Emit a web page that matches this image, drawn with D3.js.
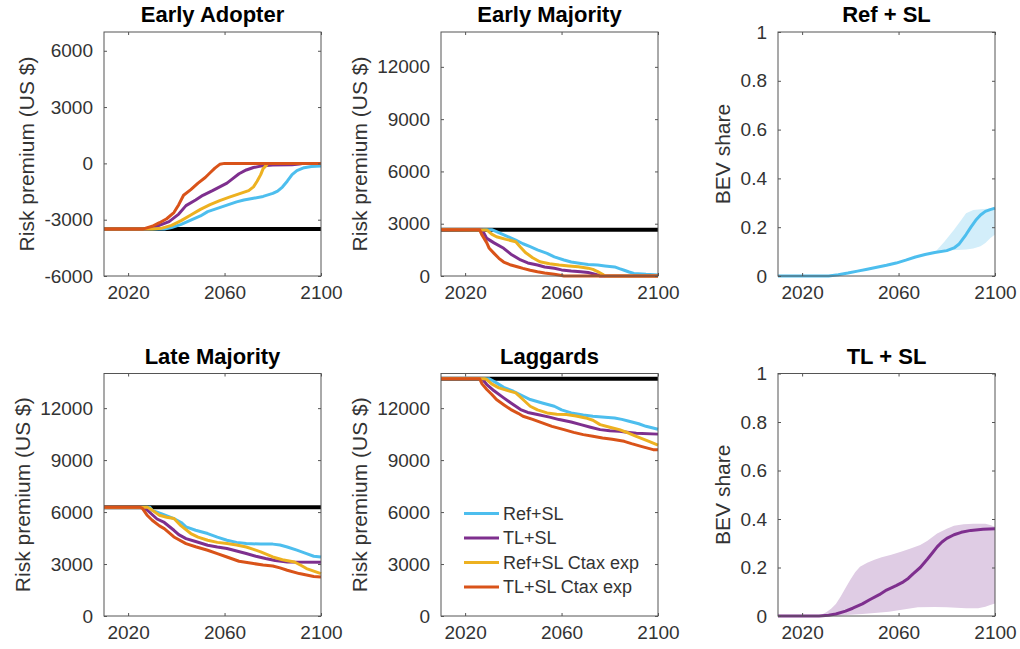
<!DOCTYPE html>
<html><head><meta charset="utf-8">
<script src="https://cdn.jsdelivr.net/npm/d3@7"></script>
<style>
body{margin:0;background:#fff;}
svg{display:block;font-family:"Liberation Sans",Arial,Helvetica,sans-serif;}
</style>
</head><body>
<svg id="chart" width="1020" height="649"></svg>
<script>
// ---------------- DATA ----------------
const seriesNames = ["Ref+SL", "TL+SL", "Ref+SL Ctax exp", "TL+SL Ctax exp"];
const xTicks = [2020, 2060, 2100];
const riskTicksEA = [-6000, -3000, 0, 3000, 6000];
const riskTicks = [0, 3000, 6000, 9000, 12000];
const shareTicks = [0, 0.2, 0.4, 0.6, 0.8, 1];

// Early Adopter
const eaBaseline = -3500;
const eaRefSL = [[2010,-3500],[2035,-3500],[2038,-3420],[2042,-3250],[2046,-3020],[2050,-2800],[2053,-2570],[2057,-2400],[2061,-2220],[2065,-2050],[2068,-1950],[2072,-1860],[2076,-1760],[2080,-1600],[2082,-1480],[2084,-1260],[2086,-950],[2088,-600],[2090,-390],[2093,-230],[2096,-170],[2100,-140]];
const eaTLSL = [[2010,-3500],[2028,-3500],[2031,-3400],[2034,-3250],[2037,-3100],[2041,-2700],[2044,-2250],[2048,-1950],[2051,-1700],[2055,-1450],[2058,-1250],[2061,-1050],[2063,-850],[2066,-550],[2069,-350],[2072,-220],[2076,-120],[2080,-80],[2088,-70],[2091,-30],[2093,0],[2100,0]];
const eaRefCtax = [[2010,-3500],[2030,-3500],[2034,-3450],[2038,-3300],[2042,-3050],[2046,-2750],[2050,-2450],[2054,-2200],[2058,-1980],[2062,-1800],[2066,-1620],[2070,-1450],[2072,-1250],[2073.5,-950],[2075,-600],[2076,-280],[2077.5,-80],[2078,0],[2100,0]];
const eaTLCtax = [[2010,-3500],[2026,-3500],[2030,-3350],[2033,-3160],[2036,-2950],[2039,-2620],[2041,-2200],[2043,-1700],[2046,-1400],[2049,-1050],[2052,-750],[2054,-500],[2056,-250],[2058,-50],[2060,0],[2100,0]];

// Early Majority
const emBaseline = 2660;
const emRefSL = [[2010,2660],[2031,2660],[2033,2540],[2037,2300],[2041,2065],[2044,1850],[2047,1680],[2050,1500],[2054,1300],[2057,1100],[2061,920],[2064,800],[2068,720],[2071,660],[2075,630],[2078,580],[2082,520],[2084,420],[2086,330],[2088,230],[2090,150],[2095,96],[2100,60]];
const emTLSL = [[2010,2660],[2027,2660],[2029,2160],[2032,1900],[2036,1590],[2039,1250],[2043,920],[2046,750],[2050,630],[2053,520],[2057,440],[2060,350],[2064,285],[2068,240],[2071,200],[2073,130],[2075,60],[2076,0],[2100,0]];
const emRefCtax = [[2010,2660],[2029,2640],[2031,2400],[2033,2250],[2037,2100],[2041,1970],[2043,1650],[2045,1350],[2048,1050],[2051,820],[2055,700],[2059,630],[2063,580],[2067,530],[2071,450],[2073,380],[2075,250],[2077,100],[2078,0],[2100,0]];
const emTLCtax = [[2010,2660],[2026,2660],[2027,2350],[2029,1900],[2030,1590],[2032,1300],[2034,1015],[2036,800],[2039,630],[2042,520],[2044,440],[2047,330],[2050,245],[2053,170],[2057,96],[2060,30],[2061,0],[2100,0]];

// Late Majority
const lmBaseline = 6280;
const lmRefSL = [[2010,6280],[2029,6280],[2030,6100],[2034,5900],[2039,5626],[2042,5400],[2044,5141],[2048,4950],[2053,4760],[2057,4550],[2061,4372],[2065,4250],[2069,4182],[2075,4150],[2080,4150],[2083,4100],[2086,3985],[2090,3800],[2094,3604],[2097,3450],[2100,3400]];
const lmTLSL = [[2010,6280],[2026,6280],[2028,6105],[2032,5600],[2035,5400],[2039,4950],[2041,4700],[2044,4470],[2048,4300],[2053,4084],[2057,3980],[2061,3893],[2065,3750],[2069,3604],[2073,3450],[2077,3315],[2081,3200],[2086,3119],[2100,3100]];
const lmRefCtax = [[2010,6280],[2028,6280],[2029,6203],[2033,5816],[2036,5700],[2039,5626],[2042,5200],[2046,4760],[2049,4550],[2053,4372],[2057,4250],[2061,4182],[2065,4100],[2069,3985],[2072,3850],[2075,3697],[2080,3408],[2084,3250],[2089,3119],[2092,2900],[2094,2738],[2100,2449]];
const lmTLCtax = [[2010,6280],[2025,6280],[2026,6203],[2028,5800],[2030,5528],[2033,5200],[2035,5047],[2039,4563],[2044,4182],[2048,4000],[2053,3795],[2057,3600],[2061,3408],[2066,3160],[2072,3027],[2076,2950],[2080,2888],[2083,2780],[2086,2640],[2091,2449],[2097,2280],[2100,2250]];

// Laggards
const lgBaseline = 13700;
const lgRefSL = [[2010,13700],[2030,13700],[2033,13460],[2036,13200],[2040,12976],[2044,12700],[2047,12496],[2052,12300],[2057,12108],[2060,11900],[2064,11725],[2069,11600],[2073,11531],[2078,11480],[2082,11435],[2085,11350],[2088,11242],[2092,11100],[2095,10951],[2100,10780]];
const lgTLSL = [[2010,13700],[2027,13700],[2029,13363],[2032,13000],[2036,12594],[2039,12300],[2043,11917],[2046,11750],[2050,11628],[2055,11480],[2059,11339],[2064,11200],[2068,11050],[2072,10900],[2076,10760],[2080,10700],[2084,10662],[2088,10600],[2091,10550],[2100,10500]];
const lgRefCtax = [[2010,13700],[2028,13700],[2029,13652],[2031,13400],[2034,13170],[2038,13000],[2041,12883],[2044,12500],[2047,12108],[2050,11900],[2054,11725],[2058,11650],[2062,11628],[2066,11550],[2070,11435],[2073,11300],[2076,11050],[2080,10900],[2084,10760],[2088,10550],[2091,10373],[2096,10100],[2100,9870]];
const lgTLCtax = [[2010,13700],[2026,13700],[2027,13400],[2029,13074],[2031,12800],[2033,12496],[2036,12200],[2039,11917],[2042,11700],[2044,11531],[2048,11350],[2052,11146],[2056,10950],[2061,10760],[2065,10600],[2069,10471],[2073,10380],[2077,10278],[2081,10200],[2086,10085],[2089,9950],[2093,9794],[2098,9603],[2100,9600]];

// BEV share, Ref + SL
const refShare = [[2010,0],[2031,0],[2035,0.005],[2039,0.012],[2043,0.02],[2047,0.028],[2051,0.036],[2055,0.044],[2059,0.053],[2063,0.065],[2067,0.078],[2071,0.088],[2075,0.096],[2080,0.104],[2083,0.115],[2085,0.13],[2088,0.17],[2090,0.2],[2092,0.228],[2094,0.25],[2096,0.265],[2098,0.272],[2100,0.278]];
const refShareUpper = [[2075,0.096],[2079,0.14],[2083,0.19],[2086,0.23],[2088,0.257],[2091,0.27],[2095,0.275],[2100,0.278]];
const refShareLower = [[2075,0.096],[2080,0.104],[2084,0.107],[2088,0.109],[2091,0.113],[2094,0.122],[2096,0.135],[2098,0.155],[2100,0.17]];

// BEV share, TL + SL
const tlShare = [[2010,0],[2027,0],[2031,0.003],[2034,0.008],[2038,0.02],[2041,0.032],[2045,0.05],[2048,0.067],[2052,0.088],[2055,0.107],[2059,0.125],[2062,0.141],[2064,0.155],[2066,0.174],[2069,0.2],[2072,0.235],[2074,0.26],[2076,0.285],[2078,0.305],[2080,0.32],[2083,0.335],[2086,0.345],[2090,0.353],[2095,0.358],[2100,0.36]];
const tlShareUpper = [[2027,0],[2030,0.015],[2032,0.03],[2034,0.05],[2036,0.08],[2038,0.115],[2040,0.15],[2042,0.18],[2044,0.203],[2047,0.22],[2050,0.232],[2053,0.242],[2057,0.253],[2061,0.265],[2065,0.278],[2069,0.293],[2072,0.31],[2076,0.34],[2080,0.36],[2083,0.372],[2087,0.378],[2091,0.38],[2096,0.38],[2098,0.375],[2100,0.368]];
const tlShareLower = [[2027,0],[2035,0.002],[2040,0.005],[2045,0.008],[2050,0.012],[2056,0.018],[2062,0.027],[2068,0.036],[2075,0.037],[2080,0.036],[2088,0.032],[2093,0.032],[2096,0.038],[2098,0.045],[2100,0.052]];

// ---------------- STYLE / LAYOUT ----------------
const seriesColors = ["#4DBEEE", "#7E2F8E", "#EDB120", "#D95319"];
const colX = [104, 441, 778];
const rowY = [[32, 276], [373.5, 616]];
const plotW = 217;
const textColor = "#333333";
const axisColor = "#555555";
const tickFont = 19, labelFont = 21, titleFont = 22;

const svg = d3.select("#chart");

const riskPanels = [
  {title: "Early Adopter", col: 0, row: 0, domain: [-6000, 7000], ticks: riskTicksEA, base: eaBaseline, series: [eaRefSL, eaTLSL, eaRefCtax, eaTLCtax]},
  {title: "Early Majority", col: 1, row: 0, domain: [0, 14000], ticks: riskTicks, base: emBaseline, series: [emRefSL, emTLSL, emRefCtax, emTLCtax]},
  {title: "Late Majority", col: 0, row: 1, domain: [0, 14000], ticks: riskTicks, base: lmBaseline, series: [lmRefSL, lmTLSL, lmRefCtax, lmTLCtax]},
  {title: "Laggards", col: 1, row: 1, domain: [0, 14000], ticks: riskTicks, base: lgBaseline, series: [lgRefSL, lgTLSL, lgRefCtax, lgTLCtax], legend: true}
];
const sharePanels = [
  {title: "Ref + SL", col: 2, row: 0, line: refShare, upper: refShareUpper, lower: refShareLower, color: seriesColors[0], band: "#D3EEFA"},
  {title: "TL + SL", col: 2, row: 1, line: tlShare, upper: tlShareUpper, lower: tlShareLower, color: seriesColors[1], band: "#DFCCE4"}
];

function frame(p, yDomain, yTicks, ylabel) {
  const left = colX[p.col], right = left + plotW;
  const top = rowY[p.row][0], bottom = rowY[p.row][1];
  const x = d3.scaleLinear().domain([2010, 2100]).range([left, right]);
  const y = d3.scaleLinear().domain(yDomain).range([bottom, top]);
  const g = svg.append("g");
  const gp = g.append("g").attr("class", "plot");
  const ga = g.append("g");
  const yAx = ga.append("g").attr("transform", `translate(${left},0)`)
    .call(d3.axisLeft(y).tickValues(yTicks).tickFormat(d => String(d)).tickSizeInner(-3).tickSizeOuter(0).tickPadding(11));
  yAx.select(".domain").remove();
  yAx.selectAll("line").attr("stroke", axisColor);
  yAx.selectAll("text").attr("fill", textColor).attr("font-size", tickFont).attr("font-family", "Liberation Sans, Arial, sans-serif");
  const yR = ga.append("g").attr("transform", `translate(${right},0)`)
    .call(d3.axisRight(y).tickValues(yTicks).tickFormat("").tickSizeInner(-3).tickSizeOuter(0));
  yR.select(".domain").remove();
  yR.selectAll("line").attr("stroke", axisColor);
  const xAx = ga.append("g").attr("transform", `translate(0,${bottom})`)
    .call(d3.axisBottom(x).tickValues(xTicks).tickFormat(d => String(d)).tickSizeInner(-3).tickSizeOuter(0).tickPadding(10));
  xAx.select(".domain").remove();
  xAx.selectAll("line").attr("stroke", axisColor);
  xAx.selectAll("text").attr("fill", textColor).attr("font-size", tickFont).attr("font-family", "Liberation Sans, Arial, sans-serif");
  const xT = ga.append("g").attr("transform", `translate(0,${top})`)
    .call(d3.axisTop(x).tickValues(xTicks).tickFormat("").tickSizeInner(-3).tickSizeOuter(0));
  xT.select(".domain").remove();
  xT.selectAll("line").attr("stroke", axisColor);
  ga.append("rect").attr("x", left).attr("y", top).attr("width", plotW).attr("height", bottom - top)
    .attr("fill", "none").attr("stroke", axisColor).attr("stroke-width", 1);
  ga.append("text").attr("x", (left + right) / 2).attr("y", top - 10).attr("text-anchor", "middle")
    .attr("font-weight", "bold").attr("font-size", titleFont).attr("fill", "#000").text(p.title);
  let minX = Infinity;
  yAx.selectAll("text").each(function() { const b = this.getBBox(); minX = Math.min(minX, left + b.x); });
  const lx = minX - 18;
  ga.append("text").attr("transform", `translate(${lx},${(top + bottom) / 2}) rotate(-90)`)
    .attr("text-anchor", "middle").attr("dy", "0.35em").attr("font-size", labelFont).attr("fill", textColor).text(ylabel);
  return {x, y, gp, left, right, top, bottom};
}

riskPanels.forEach(p => {
  const f = frame(p, p.domain, p.ticks, "Risk premium (US $)");
  const line = d3.line().x(d => f.x(d[0])).y(d => f.y(d[1]));
  f.gp.append("path").datum([[2010, p.base], [2100, p.base]]).attr("d", line)
    .attr("fill", "none").attr("stroke", "#000").attr("stroke-width", 4);
  p.series.forEach((s, i) => {
    f.gp.append("path").datum(s).attr("d", line).attr("fill", "none")
      .attr("stroke", seriesColors[i]).attr("stroke-width", 3).attr("stroke-linejoin", "round");
  });
  if (p.legend) {
    const lg = svg.append("g");
    seriesNames.forEach((n, i) => {
      const yy = 513.5 + i * 24.5;
      lg.append("line").attr("x1", 464).attr("x2", 499).attr("y1", yy).attr("y2", yy)
        .attr("stroke", seriesColors[i]).attr("stroke-width", 3);
      lg.append("text").attr("x", 503).attr("y", yy).attr("dy", "0.35em").attr("font-size", 18)
        .attr("fill", textColor).text(n);
    });
  }
});

sharePanels.forEach(p => {
  const f = frame(p, [0, 1], shareTicks, "BEV share");
  const bandPts = p.upper.concat(p.lower.slice().reverse());
  f.gp.append("path").datum(bandPts)
    .attr("d", d3.line().x(d => f.x(d[0])).y(d => f.y(d[1])).curve(d3.curveLinearClosed))
    .attr("fill", p.band).attr("stroke", "none");
  f.gp.append("path").datum(p.line)
    .attr("d", d3.line().x(d => f.x(d[0])).y(d => f.y(d[1])))
    .attr("fill", "none").attr("stroke", p.color).attr("stroke-width", 3).attr("stroke-linejoin", "round");
});
</script>
</body></html>
